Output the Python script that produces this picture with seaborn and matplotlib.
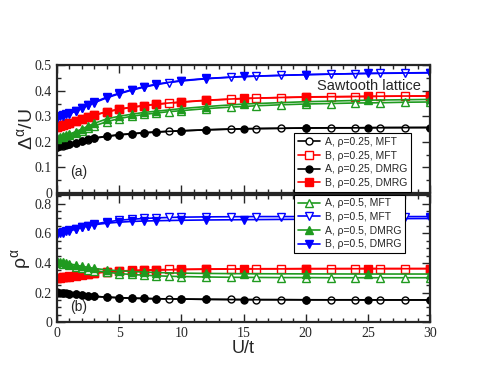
import numpy as np
import pandas as pd
import matplotlib
matplotlib.use("Agg")
import matplotlib.pyplot as plt
import seaborn as sns
from matplotlib.ticker import MultipleLocator, FuncFormatter

## datos
u_mft = [0, 0.5, 1, 1.5, 2, 2.5, 3, 4, 5, 6, 7, 8, 9, 10, 12, 14, 16, 18, 20, 22, 24, 26, 28, 30]
u_dmrg = [0, 0.25, 0.5, 0.75, 1, 1.5, 2, 2.5, 3, 4, 5, 6, 7, 8, 10, 12, 15, 20, 25, 30]

# panel (a): Delta^alpha / U
gap_a025_mft = [0.180, 0.185, 0.190, 0.196, 0.203, 0.209, 0.214, 0.221, 0.227, 0.231, 0.235, 0.238,
                0.241, 0.243, 0.247, 0.250, 0.252, 0.253, 0.254, 0.255, 0.255, 0.256, 0.256, 0.256]
gap_a025_dmrg = [0.181, 0.183, 0.186, 0.188, 0.191, 0.197, 0.204, 0.210, 0.215, 0.222, 0.228, 0.232,
                 0.236, 0.239, 0.243, 0.247, 0.251, 0.254, 0.255, 0.256]
gap_b025_mft = [0.258, 0.265, 0.272, 0.280, 0.289, 0.297, 0.304, 0.317, 0.327, 0.335, 0.341, 0.347,
                0.351, 0.355, 0.362, 0.367, 0.371, 0.373, 0.375, 0.376, 0.377, 0.378, 0.379, 0.379]
gap_b025_dmrg = [0.259, 0.262, 0.266, 0.269, 0.273, 0.281, 0.290, 0.298, 0.305, 0.318, 0.328, 0.336,
                 0.342, 0.348, 0.356, 0.363, 0.370, 0.376, 0.378, 0.380]
gap_a05_mft = [0.210, 0.218, 0.226, 0.235, 0.244, 0.253, 0.262, 0.279, 0.291, 0.300, 0.307, 0.313,
               0.318, 0.322, 0.330, 0.336, 0.341, 0.345, 0.348, 0.350, 0.352, 0.353, 0.355, 0.356]
gap_a05_dmrg = [0.215, 0.218, 0.222, 0.226, 0.230, 0.240, 0.250, 0.262, 0.272, 0.290, 0.300, 0.308,
                0.315, 0.320, 0.330, 0.338, 0.348, 0.357, 0.363, 0.366]
gap_b05_mft = [0.295, 0.302, 0.310, 0.320, 0.332, 0.343, 0.353, 0.372, 0.388, 0.402, 0.414, 0.424,
               0.432, 0.438, 0.447, 0.453, 0.457, 0.460, 0.463, 0.465, 0.467, 0.468, 0.469, 0.470]
gap_b05_dmrg = [0.297, 0.300, 0.304, 0.308, 0.312, 0.322, 0.334, 0.345, 0.355, 0.375, 0.390, 0.404,
                0.416, 0.426, 0.440, 0.448, 0.456, 0.463, 0.468, 0.471]

# panel (b): rho^alpha
rho_a025_mft = [0.200, 0.197, 0.192, 0.187, 0.182, 0.178, 0.174, 0.169, 0.165, 0.162, 0.160, 0.158,
                0.157, 0.156, 0.154, 0.153, 0.152, 0.152, 0.151, 0.151, 0.151, 0.150, 0.150, 0.150]
rho_a025_dmrg = [0.201, 0.199, 0.197, 0.195, 0.192, 0.187, 0.182, 0.178, 0.174, 0.169, 0.165, 0.162,
                 0.160, 0.158, 0.156, 0.154, 0.152, 0.151, 0.150, 0.150]
rho_b025_mft = [0.300, 0.305, 0.310, 0.316, 0.322, 0.328, 0.333, 0.340, 0.345, 0.349, 0.352, 0.354,
                0.356, 0.357, 0.359, 0.360, 0.361, 0.361, 0.362, 0.362, 0.362, 0.362, 0.362, 0.362]
rho_b025_dmrg = [0.298, 0.300, 0.303, 0.305, 0.308, 0.314, 0.320, 0.326, 0.331, 0.338, 0.343, 0.347,
                 0.350, 0.352, 0.355, 0.357, 0.359, 0.360, 0.361, 0.361]
rho_a05_mft = [0.400, 0.395, 0.385, 0.375, 0.365, 0.355, 0.348, 0.337, 0.328, 0.322, 0.317, 0.313,
               0.310, 0.308, 0.305, 0.303, 0.302, 0.301, 0.301, 0.300, 0.300, 0.300, 0.300, 0.300]
rho_a05_dmrg = [0.410, 0.408, 0.405, 0.400, 0.395, 0.385, 0.377, 0.370, 0.363, 0.353, 0.347, 0.342,
                0.338, 0.335, 0.331, 0.329, 0.327, 0.326, 0.325, 0.325]
rho_b05_mft = [0.595, 0.605, 0.615, 0.628, 0.640, 0.652, 0.662, 0.677, 0.688, 0.695, 0.700, 0.704,
               0.707, 0.709, 0.711, 0.712, 0.713, 0.713, 0.713, 0.713, 0.713, 0.713, 0.713, 0.713]
rho_b05_dmrg = [0.600, 0.605, 0.610, 0.615, 0.620, 0.630, 0.640, 0.650, 0.658, 0.668, 0.675, 0.680,
                0.683, 0.685, 0.688, 0.690, 0.692, 0.695, 0.698, 0.700]

labels = ["A, ρ=0.25, MFT", "B, ρ=0.25, MFT", "A, ρ=0.25, DMRG", "B, ρ=0.25, DMRG",
          "A, ρ=0.5, MFT", "B, ρ=0.5, MFT", "A, ρ=0.5, DMRG", "B, ρ=0.5, DMRG"]

## estilo
sns.set_style("ticks")
plt.rcParams["font.family"] = ["Liberation Sans", "DejaVu Sans"]
plt.rcParams["mathtext.fontset"] = "custom"
plt.rcParams["mathtext.rm"] = "Liberation Sans"
plt.rcParams["mathtext.it"] = "Liberation Sans:italic"

negro, rojo, verde, azul = "black", "#ff0000", "#1f9a1f", "#0000ff"
# (color, marcador, relleno)
estilos = [(negro, "o", False), (rojo, "s", False), (negro, "o", True), (rojo, "s", True),
           (verde, "^", False), (azul, "v", False), (verde, "^", True), (azul, "v", True)]

fig = plt.figure(figsize=(4.91, 3.79), dpi=100)
ax1 = fig.add_axes([0.116, 0.491, 0.760, 0.337])
ax2 = fig.add_axes([0.116, 0.150, 0.760, 0.336])

series_a = [gap_a025_mft, gap_b025_mft, gap_a025_dmrg, gap_b025_dmrg,
            gap_a05_mft, gap_b05_mft, gap_a05_dmrg, gap_b05_dmrg]
series_b = [rho_a025_mft, rho_b025_mft, rho_a025_dmrg, rho_b025_dmrg,
            rho_a05_mft, rho_b05_mft, rho_a05_dmrg, rho_b05_dmrg]

for ax, series in [(ax1, series_a), (ax2, series_b)]:
    for k, (ys, (c, m, lleno)) in enumerate(zip(series, estilos)):
        xs = u_dmrg if "DMRG" in labels[k] else u_mft
        sns.lineplot(x=xs, y=ys, ax=ax, color=c, marker=m, markersize=5.5 if m != "o" else 5,
                     markerfacecolor=c if lleno else "white", markeredgecolor=c,
                     markeredgewidth=1.0, linewidth=1.2, label=labels[k], sort=False)

for ax in [ax1, ax2]:
    ax.set_xlim(0, 30)
    ax.xaxis.set_major_locator(MultipleLocator(5))
    ax.xaxis.set_minor_locator(MultipleLocator(1))
    ax.yaxis.set_minor_locator(MultipleLocator(0.05))
    ax.tick_params(which="both", direction="in", top=True, right=True, width=1)
    ax.tick_params(which="major", length=6)
    ax.tick_params(which="minor", length=3)
    for s in ax.spines.values():
        s.set_linewidth(1.6)
    ax.yaxis.set_major_formatter(FuncFormatter(lambda v, p: "%g" % round(v, 3)))

ax1.set_ylim(0, 0.5)
ax1.yaxis.set_major_locator(MultipleLocator(0.1))
ax1.tick_params(labelbottom=False)
ax1.set_xlabel("")
ax1.set_ylabel(r"$\mathrm{\Delta^{\alpha}/U}$", fontsize=14, labelpad=-1)

ax2.set_ylim(0, 0.86)
ax2.yaxis.set_major_locator(MultipleLocator(0.2))
ax2.xaxis.set_major_formatter(FuncFormatter(lambda v, p: "%d" % v))
ax2.set_xlabel("U/t", fontsize=13, labelpad=0)
ax2.set_ylabel(r"$\mathrm{\rho^{\alpha}}$", fontsize=14, labelpad=1)

for ax in [ax1, ax2]:
    for t in ax.get_xticklabels() + ax.get_yticklabels():
        t.set_fontfamily("Liberation Serif")
        t.set_fontsize(10)

ax1.text(0.975, 0.84, "Sawtooth lattice", transform=ax1.transAxes, ha="right", va="center", fontsize=10.5)
ax1.text(0.035, 0.16, "(a)", transform=ax1.transAxes, ha="left", va="center", fontsize=10)
ax2.text(0.035, 0.12, "(b)", transform=ax2.transAxes, ha="left", va="center", fontsize=10)

## leyendas
h, l = ax1.get_legend_handles_labels()
leg_kw = dict(fontsize=7.5, frameon=True, fancybox=False, framealpha=1, edgecolor="black",
              handlelength=2.2, handletextpad=0.4, borderpad=0.35, labelspacing=0.35,
              borderaxespad=0)
ax1.legend(h[:4], l[:4], loc="lower left", bbox_to_anchor=(0.635, 0.01), **leg_kw)
h2, l2 = ax2.get_legend_handles_labels()
ax2.legend(h2[4:], l2[4:], loc="upper left", bbox_to_anchor=(0.635, 1.0), **leg_kw)
for ax in [ax1, ax2]:
    ax.get_legend().get_frame().set_linewidth(0.8)

fig.savefig("out.png", dpi=100)
